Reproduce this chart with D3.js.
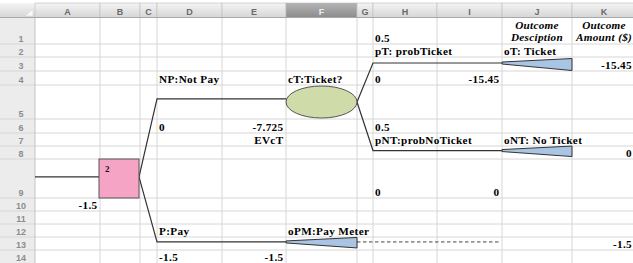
<!DOCTYPE html>
<html><head><meta charset="utf-8">
<script src="https://cdn.jsdelivr.net/npm/d3@7/dist/d3.min.js"></script>
<style>body{margin:0;background:#fff;overflow:hidden}svg{display:block}</style>
</head><body><svg id="c" width="633" height="263"></svg>
<script>
// ---- data ----
const columns = ["A","B","C","D","E","F","G","H","I","J","K"];
const rows = [1,2,3,4,5,6,7,8,9,10,11,12,13,14];
const selectedColumn = "F";
const decisionLabels = ["NP:Not Pay","P:Pay"];
const decisionNodeId = 2;
const decisionValue = -1.5;
const chanceLabel = "cT:Ticket?";
const chanceEV = -7.725;
const chanceEVName = "EVcT";
const probNames = ["pT: probTicket","pNT:probNoTicket"];
const probValues = [0.5, 0.5];
const outcomeNames = ["oT: Ticket","oNT: No Ticket","oPM:Pay Meter"];
const outcomeAmounts = [-15.45, 0, -1.5];
const branchCosts = [0, -1.5];
const headerJ = ["Outcome","Desciption"];
const headerK = ["Outcome","Amount ($)"];

// ---- layout ----
const colEdges = [35,100,140,157,222,286,357,373,437,502,572,636];
const rowEdges = [17.5,44,57,71,85,119,133,146,159,198,211,224,237,250,263.5];
const xL = d3.scaleOrdinal().domain(columns).range(colEdges.slice(0,-1));
const xR = d3.scaleOrdinal().domain(columns).range(colEdges.slice(1));
const yT = d3.scaleOrdinal().domain(rows).range(rowEdges.slice(0,-1));
const yB = d3.scaleOrdinal().domain(rows).range(rowEdges.slice(1));
const yF = (r,f)=> yT(r)+(yB(r)-yT(r))*f;
const xM = c => (xL(c)+xR(c))/2;

const svg = d3.select("#c");
const defs = svg.append("defs");
const g1 = defs.append("linearGradient").attr("id","hdr").attr("x1",0).attr("y1",0).attr("x2",0).attr("y2",1);
g1.append("stop").attr("offset","0").attr("stop-color","#f4f4f4");
g1.append("stop").attr("offset","1").attr("stop-color","#d6d6d6");
const g2 = defs.append("linearGradient").attr("id","hdrSel").attr("x1",0).attr("y1",0).attr("x2",0).attr("y2",1);
g2.append("stop").attr("offset","0").attr("stop-color","#b4b4b4");
g2.append("stop").attr("offset","1").attr("stop-color","#8c8c8c");

// row header column
svg.append("rect").attr("x",0).attr("y",17.5).attr("width",35).attr("height",246).attr("fill","#ececec");
// gridlines
svg.append("g").selectAll("line").data(rowEdges).join("line")
  .attr("x1",0).attr("x2",633).attr("y1",d=>d).attr("y2",d=>d)
  .attr("stroke","#d6d6d6").attr("stroke-width",1);
svg.append("g").selectAll("line").data(colEdges).join("line")
  .attr("x1",d=>d).attr("x2",d=>d).attr("y1",17.5).attr("y2",263)
  .attr("stroke",d=>d===35?"#c4c4c4":"#d6d6d6").attr("stroke-width",1);

// column header
svg.append("rect").attr("x",0).attr("y",3).attr("width",633).attr("height",14.5).attr("fill","url(#hdr)");
svg.append("g").selectAll("rect").data(columns).join("rect")
  .attr("x",c=>xL(c)).attr("y",3).attr("width",c=>xR(c)-xL(c)).attr("height",14.5)
  .attr("fill",c=>c===selectedColumn?"url(#hdrSel)":"url(#hdr)")
  .attr("stroke","#bdbdbd").attr("stroke-width",0.6);
svg.append("line").attr("x1",0).attr("x2",633).attr("y1",17.5).attr("y2",17.5).attr("stroke","#a8a8a8");
svg.append("path").attr("d","M25,16 L33,16 L33,9 Z").attr("fill","#fafafa").attr("stroke","#cfcfcf").attr("stroke-width",0.5);
svg.append("g").selectAll("text").data(columns).join("text")
  .attr("x",c=>xM(c)).attr("y",15).attr("text-anchor","middle")
  .attr("font-family","Liberation Sans, Arial, sans-serif").attr("font-size",9).attr("font-weight","bold")
  .attr("fill",c=>c===selectedColumn?"#eeeeee":"#6a6a6a").text(c=>c);
svg.append("g").selectAll("text").data(rows).join("text")
  .attr("x",21).attr("y",r=>yB(r)-2.5).attr("text-anchor","middle")
  .attr("font-family","Liberation Sans, Arial, sans-serif").attr("font-size",9).attr("font-weight","bold")
  .attr("fill","#8c8c8c").text(r=>r);

// ---- tree marks ----
const stroke = "#333";
const lw = 1.2;
const line = d3.line();
const yRoot = yF(9,0.46);
const yUp = yF(5,0.41);
const yLow = yF(13,0.38);
const yT1 = yF(3,0.43);
const yT2 = yF(8,0.35);
const ell = {cx:xM("F"), cy:yF(5,0.5), rx:(xR("F")-xL("F"))/2, ry:16};

const paths = [
  [[xL("A"),yRoot],[xL("B")-1,yRoot]],
  [[xR("B")-1,yRoot],[xL("D"),yUp],[xL("F")+0.5,yUp]],
  [[xR("B")-1,yRoot],[xL("D"),yLow],[xL("F"),yLow]],
  [[xR("F"),ell.cy],[xL("H"),yT1],[xL("J"),yT1]],
  [[xR("F"),ell.cy],[xL("H"),yT2],[xL("J"),yT2]]
];
svg.append("g").selectAll("path").data(paths).join("path")
  .attr("d",d=>line(d)).attr("fill","none").attr("stroke",stroke).attr("stroke-width",lw);

// dashed continuation after pay meter
svg.append("line").attr("x1",xR("F")).attr("x2",xR("I")-1).attr("y1",yLow).attr("y2",yLow)
  .attr("stroke","#444").attr("stroke-width",1).attr("stroke-dasharray","3.5,2.5");

// decision box
svg.append("rect").attr("x",xL("B")-1).attr("y",yT(9)).attr("width",xR("B")-xL("B")).attr("height",yB(9)-yT(9))
  .attr("fill","#f6a4c6").attr("stroke","#555").attr("stroke-width",1);
svg.append("text").attr("x",xL("B")+5).attr("y",yT(9)+12.5)
  .attr("font-family","Liberation Serif, Times New Roman, serif").attr("font-weight","bold").attr("font-size",9)
  .attr("fill","#111").text(decisionNodeId);

// chance ellipse
svg.append("ellipse").attr("cx",ell.cx).attr("cy",ell.cy).attr("rx",ell.rx).attr("ry",ell.ry)
  .attr("fill","#cfdca9").attr("stroke","#555").attr("stroke-width",1);

// terminal wedges
const wedges = [
  {x0:xL("J"),x1:xR("J"),y:yT1,h:12},
  {x0:xL("J"),x1:xR("J"),y:yT2,h:10.5},
  {x0:xL("F"),x1:xR("F"),y:yLow,h:10.5}
];
svg.append("g").selectAll("path").data(wedges).join("path")
  .attr("d",w=>`M${w.x0},${w.y-1} L${w.x1},${w.y-4.5} L${w.x1},${w.y-4.5+w.h} L${w.x0},${w.y+1} Z`)
  .attr("fill","#a9c5e3").attr("stroke","#333").attr("stroke-width",1);

// ---- cell texts ----
const fmt = v => String(v);
const cells = [
  {c:"H",r:1,t:fmt(probValues[0]),a:"l"},
  {c:"H",r:2,t:probNames[0],a:"l"},
  {c:"J",r:2,t:outcomeNames[0],a:"l"},
  {c:"K",r:3,t:fmt(outcomeAmounts[0]),a:"r"},
  {c:"D",r:4,t:decisionLabels[0],a:"l"},
  {c:"F",r:4,t:chanceLabel,a:"l"},
  {c:"H",r:4,t:fmt(branchCosts[0]),a:"l"},
  {c:"I",r:4,t:fmt(outcomeAmounts[0]),a:"r"},
  {c:"D",r:6,t:fmt(branchCosts[0]),a:"l"},
  {c:"E",r:6,t:fmt(chanceEV),a:"r"},
  {c:"H",r:6,t:fmt(probValues[1]),a:"l"},
  {c:"E",r:7,t:chanceEVName,a:"r"},
  {c:"H",r:7,t:probNames[1],a:"l"},
  {c:"J",r:7,t:outcomeNames[1],a:"l"},
  {c:"K",r:8,t:fmt(outcomeAmounts[1]),a:"r"},
  {c:"H",r:9,t:fmt(branchCosts[0]),a:"l"},
  {c:"I",r:9,t:fmt(outcomeAmounts[1]),a:"r"},
  {c:"A",r:10,t:fmt(decisionValue),a:"r"},
  {c:"D",r:12,t:decisionLabels[1],a:"l"},
  {c:"F",r:12,t:outcomeNames[2],a:"l"},
  {c:"K",r:13,t:fmt(outcomeAmounts[2]),a:"r"},
  {c:"D",r:14,t:fmt(branchCosts[1]),a:"l"},
  {c:"E",r:14,t:fmt(outcomeAmounts[2]),a:"r"}
];
svg.append("g").selectAll("text").data(cells).join("text")
  .attr("x",d=>d.a==="l"?xL(d.c)+2:xR(d.c)-(d.c==="K"?4:2.5))
  .attr("y",d=>yB(d.r)-2.5)
  .attr("text-anchor",d=>d.a==="l"?"start":"end")
  .attr("font-family","Liberation Serif, Times New Roman, serif").attr("font-weight","bold")
  .attr("font-size",11.2).attr("letter-spacing",0.35).attr("fill","#000").text(d=>d.t);

const heads = [{c:"J",lines:headerJ},{c:"K",lines:headerK}];
heads.forEach(h=>{
  svg.append("g").selectAll("text").data(h.lines).join("text")
    .attr("x",xM(h.c)).attr("y",(d,i)=>28.5+i*12).attr("text-anchor","middle")
    .attr("font-family","Liberation Serif, Times New Roman, serif").attr("font-weight","bold").attr("font-style","italic")
    .attr("font-size",11.2).attr("letter-spacing",0.3).attr("fill","#000").text(d=>d);
});
</script></body></html>
